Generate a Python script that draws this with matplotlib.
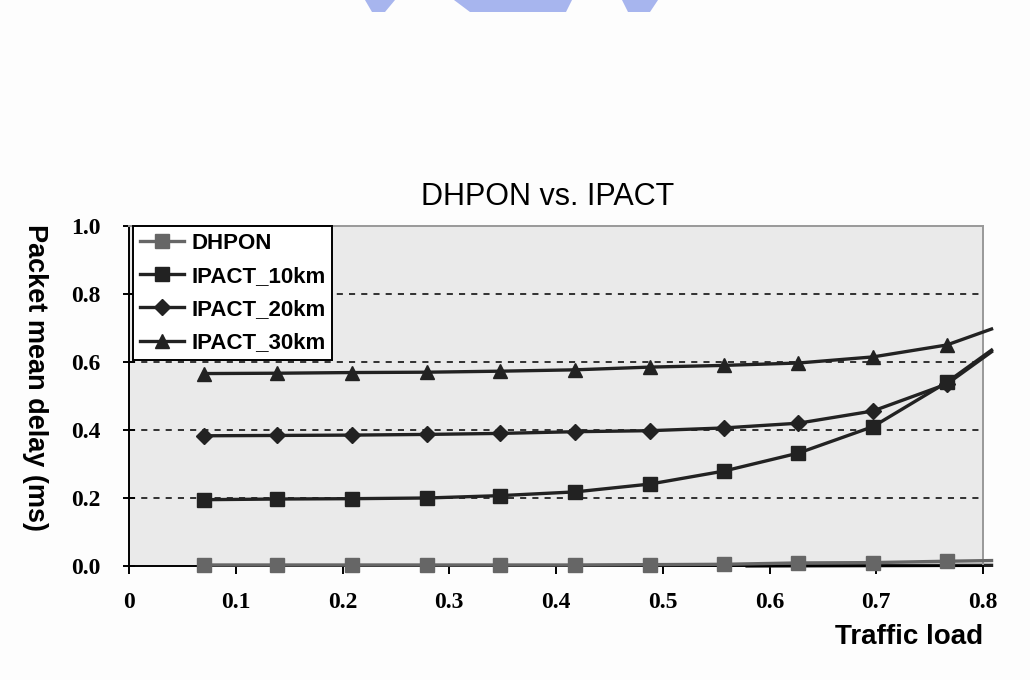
import matplotlib
matplotlib.use("Agg")
import matplotlib.pyplot as plt
from matplotlib.patches import Polygon

# ---- data ----
x_load = [0.070, 0.139, 0.209, 0.279, 0.348, 0.418, 0.488, 0.557, 0.627, 0.697, 0.766, 0.808]
dhpon = [0.003, 0.003, 0.003, 0.003, 0.003, 0.003, 0.004, 0.005, 0.009, 0.010, 0.014, 0.016]
ipact_10km = [0.195, 0.197, 0.198, 0.200, 0.207, 0.218, 0.241, 0.279, 0.332, 0.410, 0.540, 0.635]
ipact_20km = [0.383, 0.384, 0.385, 0.387, 0.390, 0.395, 0.398, 0.406, 0.420, 0.456, 0.535, 0.630]
ipact_30km = [0.566, 0.567, 0.569, 0.570, 0.573, 0.577, 0.585, 0.590, 0.597, 0.615, 0.650, 0.697]
dhpon_tail_x = [0.579, 0.808]
dhpon_tail_y = [0.000, 0.002]

x_ticks = [0, 0.1, 0.2, 0.3, 0.4, 0.5, 0.6, 0.7, 0.8]
x_tick_labels = ["0", "0.1", "0.2", "0.3", "0.4", "0.5", "0.6", "0.7", "0.8"]
y_ticks = [0.0, 0.2, 0.4, 0.6, 0.8, 1.0]
y_tick_labels = ["0.0", "0.2", "0.4", "0.6", "0.8", "1.0"]
grid_levels = [0.2, 0.4, 0.6, 0.8]

title = "DHPON vs. IPACT"
x_label = "Traffic load"
y_label = "Packet mean delay (ms)"

# ---- figure ----
W, H = 1030, 680
fig = plt.figure(figsize=(W / 100, H / 100), dpi=100, facecolor="#fdfdfd")
ax = fig.add_axes([129 / W, 1 - 566 / H, (983 - 129) / W, (566 - 226) / H])
ax.set_facecolor("#eaeaea")
ax.set_xlim(0, 0.8)
ax.set_ylim(0, 1.0)

for g in grid_levels:
    ax.axhline(g, color="black", lw=1.1, ls=(0, (4, 4)), zorder=1)

n_mark = len(x_load) - 1
ax.plot(dhpon_tail_x, dhpon_tail_y, color="#222222", lw=2.4, zorder=2, clip_on=False)
ax.plot(x_load, dhpon, color="#666666", lw=2.4, marker="s", ms=10, markevery=slice(0, n_mark),
        label="DHPON", zorder=3, clip_on=False)
ax.plot(x_load, ipact_10km, color="#222222", lw=2.4, marker="s", ms=10, markevery=slice(0, n_mark),
        label="IPACT_10km", zorder=4, clip_on=False)
ax.plot(x_load, ipact_20km, color="#222222", lw=2.4, marker="D", ms=8, markevery=slice(0, n_mark),
        label="IPACT_20km", zorder=3, clip_on=False)
ax.plot(x_load, ipact_30km, color="#222222", lw=2.4, marker="^", ms=10, markevery=slice(0, n_mark),
        label="IPACT_30km", zorder=3, clip_on=False)

# spines
for s in ["left", "bottom"]:
    ax.spines[s].set_color("black")
    ax.spines[s].set_linewidth(1.4)
for s in ["top", "right"]:
    ax.spines[s].set_color("#999999")
    ax.spines[s].set_linewidth(1.4)

tick_font = dict(family="Liberation Serif", weight="bold", size=17)
ax.set_xticks(x_ticks)
ax.set_xticklabels(x_tick_labels, fontdict=tick_font)
ax.set_yticks(y_ticks)
ax.set_yticklabels(y_tick_labels, fontdict=tick_font)
ax.tick_params(axis="x", direction="out", length=6, width=1.4, pad=13, colors="black")
ax.tick_params(axis="y", direction="inout", length=9, width=1.4, pad=16, colors="black")

fig.text(548 / W, 1 - 205 / H, title, ha="center", va="baseline",
         fontsize=22, family="Liberation Sans")
fig.text(983 / W, 1 - 637 / H, x_label, ha="right", va="center",
         fontsize=20, weight="bold", family="Liberation Sans")
fig.text(35 / W, 1 - 377 / H, y_label, ha="center", va="center", rotation=270,
         fontsize=19.5, weight="bold", family="Liberation Sans")

leg = ax.legend(loc="upper left", bbox_to_anchor=(0.005, 1.0), borderaxespad=0,
                prop=dict(family="Liberation Sans", weight="bold", size=16),
                frameon=True, fancybox=False, edgecolor="black", facecolor="white",
                framealpha=1, handlelength=2.0, handletextpad=0.3, labelspacing=0.55,
                borderpad=0.3)
leg.get_frame().set_linewidth(1.4)
leg.set_zorder(10)

# faint logo fragment at the top of the page
logo_color = "#a7b5ee"
for pts in [
    [(365, 0), (395, 0), (385, 12), (372, 12)],
    [(454, 0), (572, 0), (566, 12), (470, 12)],
    [(622, 0), (658, 0), (650, 12), (628, 12)],
]:
    fig.patches.append(Polygon([(px / W, 1 - py / H) for px, py in pts], closed=True,
                               transform=fig.transFigure, facecolor=logo_color,
                               edgecolor="none", zorder=0))

fig.savefig("out.png", dpi=100, facecolor=fig.get_facecolor())
